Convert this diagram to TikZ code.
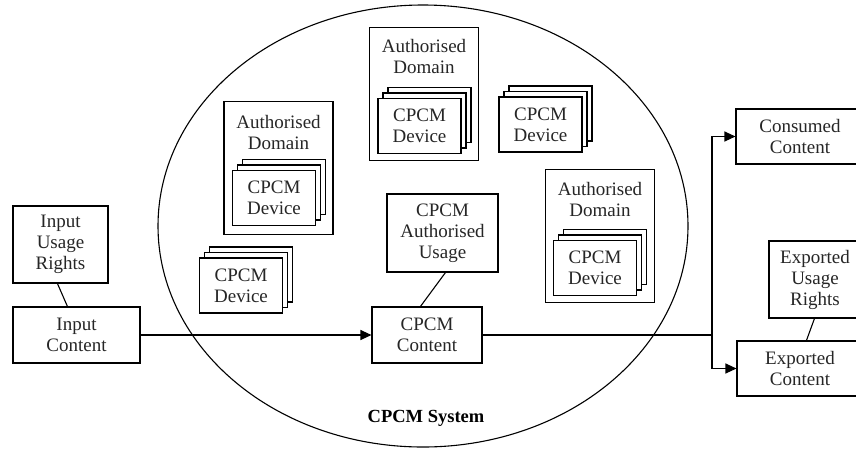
\documentclass[tikz,border=0pt]{standalone}
\usepackage{fontspec}
\setmainfont{Liberation Serif}
\usetikzlibrary{arrows.meta,shapes.geometric,calc}
\newcommand\boxfont{\fontsize{19}{21}\selectfont}
% a stack of three device cards, the front one labelled
\newcommand\devstack[3]{%
  \node[card] (#1-back) at (#2+10,#3-11) {};
  \node[card] (#1-mid) at (#2+5,#3-5.5) {};
  \node[card] (#1) at (#2,#3) {CPCM\\Device};
}
\begin{document}
\begin{tikzpicture}[x=1pt,y=-1pt,
  every node/.style={font=\boxfont, text=black!85},
  line/.style={draw=black, line width=1.1pt},
  plainbox/.style={line, fill=white, align=center, inner sep=0pt},
  adbox/.style={line, inner sep=0pt, minimum width=109pt, minimum height=133pt},
  card/.style={line, fill=white, align=center, inner sep=0pt,
               minimum width=83pt, minimum height=55pt},
  arrowline/.style={line, -{Triangle[length=11pt,width=10pt]}}]

\useasboundingbox (0,0) rectangle (856,448);

% system boundary
\node[draw, line width=1.1pt, ellipse, minimum width=530pt, minimum height=442pt,
      inner sep=0pt] (sys) at (423,226) {};
\node[font=\fontsize{18.5}{21}\selectfont\bfseries, text=black] (syslabel) at (426,418) {CPCM System};

% content and rights boxes
\node[plainbox, minimum width=95pt, minimum height=77pt] (iur) at (60.5,244.5) {Input\\Usage\\Rights};
\node[plainbox, minimum width=127pt, minimum height=56pt] (ic) at (76.5,335) {Input\\Content};
\node[plainbox, minimum width=110pt, minimum height=56pt] (cc) at (427,335) {CPCM\\Content};
\node[plainbox, minimum width=111pt, minimum height=78pt] (cau) at (442.5,233) {CPCM\\Authorised\\Usage};
\node[plainbox, minimum width=128pt, minimum height=55pt] (cons) at (800,136.5) {Consumed\\Content};
\node[plainbox, minimum width=92pt, minimum height=77pt] (eur) at (815,279.5) {Exported\\Usage\\Rights};
\node[plainbox, minimum width=126pt, minimum height=55pt] (ec) at (800,368.5) {Exported\\Content};

% authorised domains with their devices
\node[adbox] (ad1) at (278.5,168) {};
\node[align=center] (ad1t) at (278.5,132) {Authorised\\Domain};
\devstack{ad1dev}{274}{198}

\node[adbox] (ad2) at (424,94) {};
\node[align=center] (ad2t) at (424,56) {Authorised\\Domain};
\devstack{ad2dev}{419.5}{126}

\node[adbox] (ad3) at (600,236) {};
\node[align=center] (ad3t) at (600,199) {Authorised\\Domain};
\devstack{ad3dev}{595}{268}

% devices outside any domain
\devstack{dev1}{241}{285.5}
\devstack{dev2}{540.5}{124.5}

% associations
\draw[line] ($(iur.south west)+(45,0)$) -- ($(ic.north west)+(55,0)$);
\draw[line] ($(cau.south west)+(59,0)$) -- ($(cc.north west)+(49,0)$);
\draw[line] ($(eur.south west)+(46,0)$) -- ($(ec.north west)+(70,0)$);

% content flow
\draw[arrowline] (ic.east) -- (cc.west);
\coordinate (split) at (712,335);
\draw[line] (cc.east) -- (split);
\draw[arrowline] (split) |- (cons.west);
\draw[arrowline] (split) |- (ec.west);
\end{tikzpicture}
\end{document}
